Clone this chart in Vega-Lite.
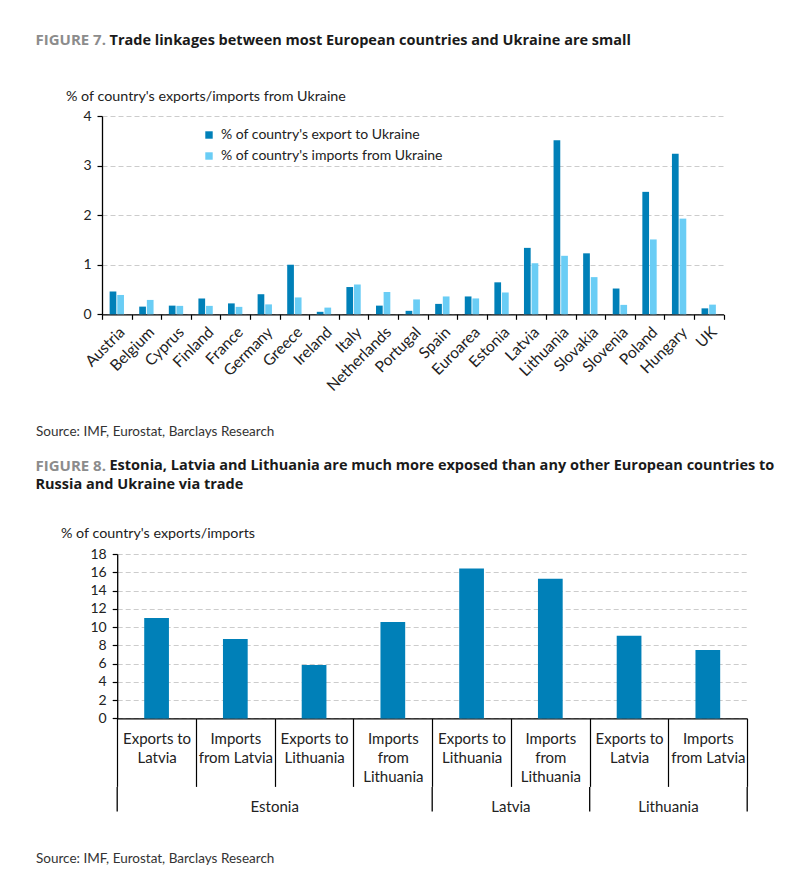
{
  "$schema": "https://vega.github.io/schema/vega-lite/v6.json",
  "padding": {"left": 35, "top": 33, "right": 0, "bottom": 0},
  "background": "white",
  "config": {
    "font": "Lato",
    "view": {"stroke": null},
    "axis": {
      "labelFont": "Lato", "titleFont": "Lato",
      "labelColor": "#222", "titleColor": "#222",
      "domainColor": "#000", "tickColor": "#000",
      "gridColor": "#cccccc", "gridDash": [5, 3], "gridWidth": 1,
      "domainWidth": 1.3, "tickWidth": 1.2
    }
  },
  "title": {
    "text": "FIGURE 7.", "anchor": "start", "frame": "bounds", "offset": -15,
    "font": "Open Sans", "fontSize": 15, "fontWeight": "bold", "color": "#8c8c8c"
  },
  "datasets": {
    "fig7": [
      {"country": "Austria", "series": "% of country's export to Ukraine", "value": 0.46},
      {"country": "Austria", "series": "% of country's imports from Ukraine", "value": 0.39},
      {"country": "Belgium", "series": "% of country's export to Ukraine", "value": 0.155},
      {"country": "Belgium", "series": "% of country's imports from Ukraine", "value": 0.29},
      {"country": "Cyprus", "series": "% of country's export to Ukraine", "value": 0.175},
      {"country": "Cyprus", "series": "% of country's imports from Ukraine", "value": 0.17},
      {"country": "Finland", "series": "% of country's export to Ukraine", "value": 0.32},
      {"country": "Finland", "series": "% of country's imports from Ukraine", "value": 0.17},
      {"country": "France", "series": "% of country's export to Ukraine", "value": 0.22},
      {"country": "France", "series": "% of country's imports from Ukraine", "value": 0.15},
      {"country": "Germany", "series": "% of country's export to Ukraine", "value": 0.405},
      {"country": "Germany", "series": "% of country's imports from Ukraine", "value": 0.2},
      {"country": "Greece", "series": "% of country's export to Ukraine", "value": 1.0},
      {"country": "Greece", "series": "% of country's imports from Ukraine", "value": 0.34},
      {"country": "Ireland", "series": "% of country's export to Ukraine", "value": 0.05},
      {"country": "Ireland", "series": "% of country's imports from Ukraine", "value": 0.135},
      {"country": "Italy", "series": "% of country's export to Ukraine", "value": 0.55},
      {"country": "Italy", "series": "% of country's imports from Ukraine", "value": 0.6},
      {"country": "Netherlands", "series": "% of country's export to Ukraine", "value": 0.175},
      {"country": "Netherlands", "series": "% of country's imports from Ukraine", "value": 0.45},
      {"country": "Portugal", "series": "% of country's export to Ukraine", "value": 0.07},
      {"country": "Portugal", "series": "% of country's imports from Ukraine", "value": 0.3},
      {"country": "Spain", "series": "% of country's export to Ukraine", "value": 0.21},
      {"country": "Spain", "series": "% of country's imports from Ukraine", "value": 0.36},
      {"country": "Euroarea", "series": "% of country's export to Ukraine", "value": 0.36},
      {"country": "Euroarea", "series": "% of country's imports from Ukraine", "value": 0.32},
      {"country": "Estonia", "series": "% of country's export to Ukraine", "value": 0.645},
      {"country": "Estonia", "series": "% of country's imports from Ukraine", "value": 0.44},
      {"country": "Latvia", "series": "% of country's export to Ukraine", "value": 1.34},
      {"country": "Latvia", "series": "% of country's imports from Ukraine", "value": 1.03},
      {"country": "Lithuania", "series": "% of country's export to Ukraine", "value": 3.51},
      {"country": "Lithuania", "series": "% of country's imports from Ukraine", "value": 1.18},
      {"country": "Slovakia", "series": "% of country's export to Ukraine", "value": 1.23},
      {"country": "Slovakia", "series": "% of country's imports from Ukraine", "value": 0.75},
      {"country": "Slovenia", "series": "% of country's export to Ukraine", "value": 0.52},
      {"country": "Slovenia", "series": "% of country's imports from Ukraine", "value": 0.19},
      {"country": "Poland", "series": "% of country's export to Ukraine", "value": 2.47},
      {"country": "Poland", "series": "% of country's imports from Ukraine", "value": 1.51},
      {"country": "Hungary", "series": "% of country's export to Ukraine", "value": 3.24},
      {"country": "Hungary", "series": "% of country's imports from Ukraine", "value": 1.93},
      {"country": "UK", "series": "% of country's export to Ukraine", "value": 0.12},
      {"country": "UK", "series": "% of country's imports from Ukraine", "value": 0.195}
    ],
    "fig8": [
      {"key": "Estonia|Exports to|Latvia", "value": 11.0},
      {"key": "Estonia|Imports|from Latvia", "value": 8.7},
      {"key": "Estonia|Exports to|Lithuania", "value": 5.85},
      {"key": "Estonia|Imports|from|Lithuania", "value": 10.55},
      {"key": "Latvia|Exports to|Lithuania", "value": 16.42},
      {"key": "Latvia|Imports|from|Lithuania", "value": 15.29},
      {"key": "Lithuania|Exports to|Latvia", "value": 9.05},
      {"key": "Lithuania|Imports|from Latvia", "value": 7.48}
    ],
    "groups": [
      {"group": "Estonia", "mid": 2},
      {"group": "Latvia", "mid": 5},
      {"group": "Lithuania", "mid": 7}
    ],
    "seps": [
      {"pos": 0}, {"pos": 4}, {"pos": 6}, {"pos": 8}
    ]
  },
  "vconcat": [
    {
      "width": 621.5,
      "height": 198.3,
      "data": {"name": "fig7"},
      "title": {
        "text": "Trade linkages between most European countries and Ukraine are small",
        "anchor": "start", "frame": "group", "dx": 7.5, "offset": 40.5,
        "font": "Open Sans", "fontSize": 14.5, "fontWeight": "bold", "color": "#1a1a1a", "limit": 0
      },
      "mark": {"type": "bar"},
      "encoding": {
        "x": {
          "field": "country", "type": "nominal", "sort": null,
          "scale": {"paddingInner": 0, "paddingOuter": 0},
          "axis": {
            "tickBand": "extent", "labelAngle": -45, "tickSize": 5, "labelFontSize": 15.5, "labelPadding": 5,
            "title": "Source: IMF, Eurostat, Barclays Research",
            "titleX": -66.5, "titleY": 117.5, "titleAlign": "left", "titleAnchor": "start", "titleBaseline": "middle",
            "titleFontSize": 13.5, "titleFontWeight": "normal", "titleColor": "#333"
          }
        },
        "y": {
          "field": "value", "type": "quantitative",
          "scale": {"domain": [0, 4]},
          "axis": {
            "values": [0, 1, 2, 3, 4], "format": "d", "grid": true,
            "labelFontSize": 14, "tickSize": 5, "labelPadding": 6,
            "title": "% of country's exports/imports from Ukraine",
            "titleAngle": 0, "titleX": -36.5, "titleY": -20, "titleAlign": "left", "titleBaseline": "middle",
            "titleFontWeight": "normal", "titleFontSize": 14.3
          }
        },
        "xOffset": {"field": "series", "sort": null, "scale": {"paddingInner": 0.12, "paddingOuter": 1.05}},
        "color": {
          "field": "series", "type": "nominal", "sort": null,
          "scale": {"range": ["#0080b8", "#6acdf5"]},
          "legend": {
            "orient": "none", "legendX": 100, "legendY": 12, "title": null,
            "symbolType": "square", "symbolSize": 55, "symbolStrokeWidth": 0,
            "labelFontSize": 14, "labelColor": "#222", "labelLimit": 400,
            "rowPadding": 7, "labelOffset": 5, "padding": 0
          }
        }
      }
    },
    {
      "title": {
        "text": "FIGURE 8.", "subtitle": "Russia and Ukraine via trade",
        "anchor": "start", "frame": "bounds", "offset": -33.5,
        "font": "Open Sans", "fontSize": 15, "fontWeight": "bold", "color": "#8c8c8c",
        "subtitleFont": "Open Sans", "subtitleFontSize": 14.5, "subtitleFontWeight": "bold",
        "subtitleColor": "#1a1a1a", "subtitlePadding": 4
      },
      "vconcat": [
        {
          "width": 645.2,
          "height": 164.4,
          "data": {"name": "fig8"},
          "title": {
            "text": "Estonia, Latvia and Lithuania are much more exposed than any other European countries to",
            "anchor": "start", "frame": "group", "dx": 7.5, "offset": 53,
            "font": "Open Sans", "fontSize": 14.5, "fontWeight": "bold", "color": "#1a1a1a", "limit": 0
          },
          "mark": {"type": "bar", "width": {"band": 0.314}, "color": "#0080b8"},
          "encoding": {
            "x": {
              "field": "key", "type": "nominal", "sort": null,
              "scale": {"paddingInner": 0, "paddingOuter": 0, "rangeMin": 15.2},
              "axis": {
                "tickBand": "extent", "tickSize": 68, "labelAngle": 0,
                "labelExpr": "slice(split(datum.label, '|'), 1)",
                "labelFontSize": 15, "labelLineHeight": 19, "labelPadding": -54.5,
                "labelBaseline": "top", "labelAlign": "center",
                "labelOverlap": false, "labelBound": false, "labelLimit": 0, "title": null
              }
            },
            "y": {
              "field": "value", "type": "quantitative",
              "scale": {"domain": [0, 18]},
              "axis": {
                "values": [0, 2, 4, 6, 8, 10, 12, 14, 16, 18], "grid": true, "offset": -15.2,
                "labelFontSize": 14, "tickSize": 5, "labelPadding": 6,
                "title": "% of country's exports/imports",
                "titleAngle": 0, "titleX": -56.7, "titleY": -21, "titleAlign": "left", "titleBaseline": "middle",
                "titleFontWeight": "normal", "titleFontSize": 14.3
              }
            }
          }
        },
        {
          "width": 645.2,
          "height": 24.5,
          "layer": [
            {
              "data": {"name": "seps"},
              "mark": {"type": "rule", "color": "#000", "strokeWidth": 1.3},
              "encoding": {
                "x": {
                  "field": "pos", "type": "quantitative",
                  "scale": {"domain": [0, 8], "nice": false, "zero": false, "rangeMin": 15.2},
                  "axis": {
                    "labels": false, "ticks": false, "domain": false, "grid": false,
                    "title": "Source: IMF, Eurostat, Barclays Research",
                    "titleX": -66.5, "titleY": 47, "titleAlign": "left", "titleAnchor": "start", "titleBaseline": "middle",
                    "titleFontSize": 13.5, "titleFontWeight": "normal", "titleColor": "#333"
                  }
                }
              }
            },
            {
              "data": {"name": "groups"},
              "mark": {"type": "text", "fontSize": 15, "dy": 8, "color": "#222", "font": "Lato"},
              "encoding": {
                "x": {"field": "mid", "type": "quantitative"},
                "text": {"field": "group"}
              }
            }
          ]
        }
      ],
      "spacing": -2
    }
  ],
  "spacing": 18
}
